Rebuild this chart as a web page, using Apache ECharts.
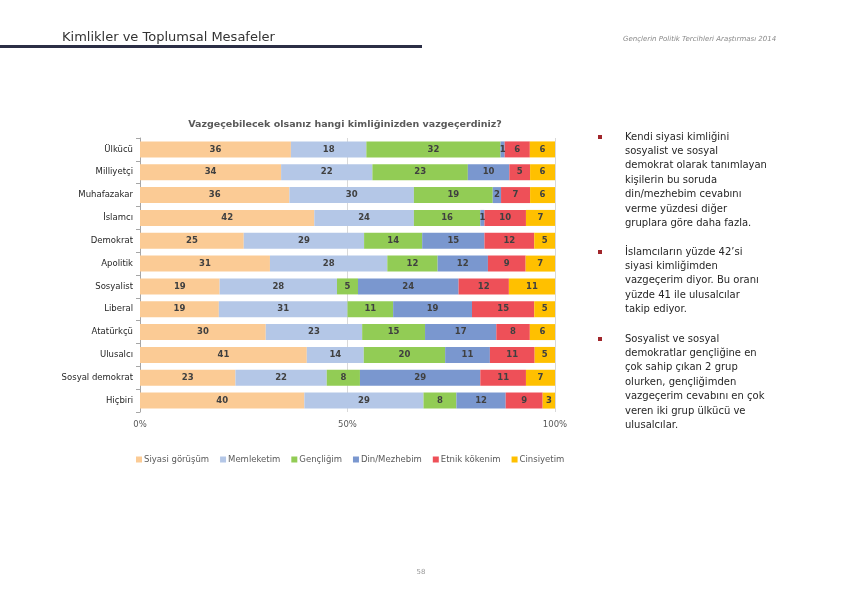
<!DOCTYPE html>
<html>
<head>
<meta charset="utf-8">
<script src="https://cdn.jsdelivr.net/npm/echarts@6/dist/echarts.min.js"></script>
<style>
html,body{margin:0;padding:0;background:#fff;}
#chart{width:843px;height:596px;}
</style>
</head>
<body>
<div id="chart"></div>
<script>
const categories = ['Ülkücü','Milliyetçi','Muhafazakar','İslamcı','Demokrat','Apolitik','Sosyalist','Liberal','Atatürkçü','Ulusalcı','Sosyal demokrat','Hiçbiri'];
const seriesNames = ['Siyasi görüşüm','Memleketim','Gençliğim','Din/Mezhebim','Etnik kökenim','Cinsiyetim'];
const siyasi   = [36,34,36,42,25,31,19,19,30,41,23,40];
const memleket = [18,22,30,24,29,28,28,31,23,14,22,29];
const genclik  = [32,23,19,16,14,12,5,11,15,20,8,8];
const din      = [1,10,2,1,15,12,24,19,17,11,29,12];
const etnik    = [6,5,7,10,12,9,12,15,8,11,11,9];
const cinsiyet = [6,6,6,7,5,7,11,5,6,5,7,3];
const axisTicks = [0,50,100];

const FONT = '"DejaVu Sans", "Liberation Sans", Arial';
const colors = ['#FBCB95','#B4C7E7','#92CC55','#7A97CF','#EE5058','#FFC000'];
const allSeries = [siyasi,memleket,genclik,din,etnik,cinsiyet];
const totals = categories.map((c,i)=>allSeries.reduce((s,a)=>s+a[i],0));

const bullets = [
  ['Kendi siyasi kimliğini','sosyalist ve sosyal','demokrat olarak tanımlayan','kişilerin bu soruda','din/mezhebim cevabını','verme yüzdesi diğer','gruplara göre daha fazla.'],
  ['İslamcıların yüzde 42’si','siyasi kimliğimden','vazgeçerim diyor. Bu oranı','yüzde 41 ile ulusalcılar','takip ediyor.'],
  ['Sosyalist ve sosyal','demokratlar gençliğine en','çok sahip çıkan 2 grup','olurken, gençliğimden','vazgeçerim cevabını en çok','veren iki grup ülkücü ve','ulusalcılar.']
];
const bulletTops = [137,252,339];

const graphics = [
  {type:'text',left:62,top:31,style:{text:'Kimlikler ve Toplumsal Mesafeler',font:'13px ' + FONT,fill:'#333'}},
  {type:'rect',shape:{x:0,y:45,width:422,height:3},style:{fill:'#2B2E45'}},
  {type:'text',left:623,top:36,style:{text:'Gençlerin Politik Tercihleri Araştırması 2014',font:'italic 7px ' + FONT,fill:'#888'}},
  {type:'text',x:345,y:120,style:{text:'Vazgeçebilecek olsanız hangi kimliğinizden vazgeçerdiniz?',font:'bold 9.5px ' + FONT,fill:'#595959',textAlign:'center'}},
  {type:'text',x:421,y:569,style:{text:'58',font:'7px ' + FONT,fill:'#999',textAlign:'center'}}
];
bullets.forEach((lines,b)=>{
  graphics.push({type:'rect',shape:{x:598,y:bulletTops[b]-2,width:4,height:4},style:{fill:'#A0262B'}});
  lines.forEach((ln,k)=>{
    graphics.push({type:'text',x:625,y:bulletTops[b]-5+k*14.4,style:{text:ln,font:'10px ' + FONT,fill:'#262626'}});
  });
});

const chart = echarts.init(document.getElementById('chart'));
chart.setOption({
  animation:false,
  color:colors,
  textStyle:{fontFamily:FONT},
  legend:{
    data:seriesNames,
    left:131, top:450,
    itemWidth:6, itemHeight:6, itemGap:11,
    icon:'rect',
    textStyle:{fontSize:8.5,color:'#595959',padding:[0,0,0,-3],fontFamily:FONT}
  },
  grid:{left:140,right:288,top:138,bottom:184},
  xAxis:{
    type:'value',min:axisTicks[0],max:axisTicks[axisTicks.length-1],interval:50,
    axisLabel:{formatter:'{value}%',fontSize:8.5,color:'#595959',margin:8,fontFamily:FONT},
    axisLine:{show:false},axisTick:{show:false},
    splitLine:{show:true,lineStyle:{color:'#D9D9D9',width:1}}
  },
  yAxis:{
    type:'category',data:categories,inverse:true,
    axisLine:{show:true,lineStyle:{color:'#A6A6A6'}},
    axisTick:{show:true,length:4,lineStyle:{color:'#A6A6A6'}},
    axisLabel:{fontSize:8.5,color:'#262626',margin:7,fontFamily:FONT}
  },
  series: allSeries.map((arr,si)=>({
    name:seriesNames[si],type:'bar',stack:'t',barCategoryGap:'30%',
    data:arr.map((v,i)=>({value:v/totals[i]*100,raw:v})),
    label:{show:true,position:'inside',formatter:p=>p.data.raw,fontSize:8.5,fontWeight:'bold',color:'#404040',fontFamily:FONT}
  })),
  graphic:graphics
});
</script>
</body>
</html>
